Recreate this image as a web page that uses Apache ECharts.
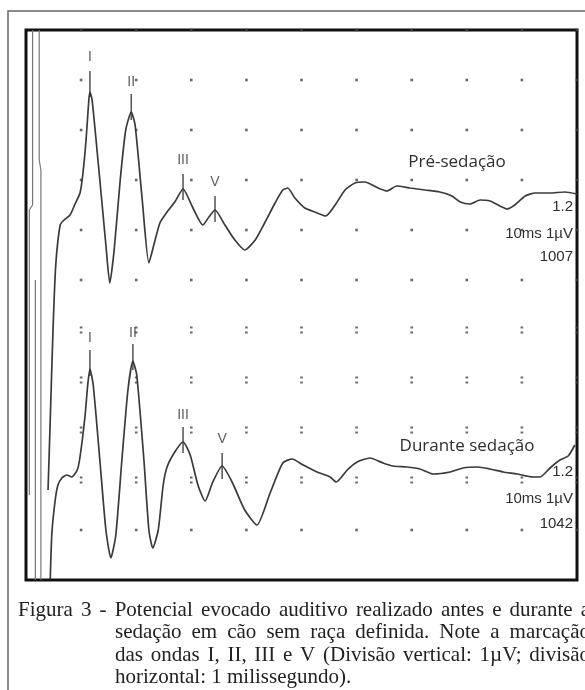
<!DOCTYPE html>
<html>
<head>
<meta charset="utf-8">
<script src="https://cdn.jsdelivr.net/npm/echarts@6/dist/echarts.min.js"></script>
<style>
html, body { margin: 0; padding: 0; background: #fff; }
#chart { width: 585px; height: 690px; }
</style>
</head>
<body>
<div id="chart"></div>
<script>
// time in ms, amplitude in grid divisions (1 division = 1 µV)

const preTime = [0.40, 0.44, 0.49, 0.54, 0.62, 0.69, 0.80, 0.89, 0.98, 1.03, 1.09, 1.14, 1.16, 1.20, 1.34, 1.45, 1.52,
  1.60, 1.71, 1.81, 1.91, 1.98, 2.11, 2.23, 2.32, 2.43, 2.56, 2.70, 2.85, 3.03, 3.21, 3.32, 3.43, 3.61, 3.79, 3.97,
  4.16, 4.34, 4.52, 4.66, 4.75, 4.88, 5.06, 5.24, 5.44, 5.61, 5.79, 5.97, 6.15, 6.39, 6.55, 6.73, 6.97, 7.24, 7.51,
  7.73, 7.88, 8.06, 8.24, 8.42, 8.60, 8.73, 8.87, 9.06, 9.24, 9.51, 9.78, 10.0]
const preAmp = [1.80, 3.20, 5.00, 6.30, 7.10, 7.20, 7.30, 7.52, 7.74, 8.10, 8.80, 9.60, 9.76, 9.60, 8.00, 6.70, 5.94,
  6.60, 8.00, 9.00, 9.36, 9.10, 7.60, 6.34, 6.70, 7.14, 7.36, 7.56, 7.82, 7.44, 7.10, 7.26, 7.40, 7.10, 6.80, 6.60,
  6.80, 7.16, 7.54, 7.80, 7.84, 7.64, 7.44, 7.36, 7.28, 7.50, 7.80, 7.94, 7.96, 7.84, 7.78, 7.88, 7.84, 7.80, 7.76,
  7.68, 7.56, 7.52, 7.60, 7.58, 7.48, 7.42, 7.50, 7.68, 7.74, 7.74, 7.76, 7.72]

const durTime = [0.44, 0.47, 0.53, 0.58, 0.65, 0.74, 0.83, 0.93, 0.98, 1.07, 1.12, 1.16, 1.22, 1.34, 1.45, 1.54,
  1.63, 1.74, 1.85, 1.94, 2.01, 2.14, 2.23, 2.30, 2.40, 2.49, 2.56, 2.70, 2.85, 2.98, 3.12, 3.25, 3.39, 3.56, 3.74,
  3.97, 4.19, 4.43, 4.66, 4.83, 5.03, 5.28, 5.52, 5.63, 5.83, 6.01, 6.24, 6.48, 6.66, 6.91, 7.15, 7.39, 7.70, 7.93,
  8.19, 8.42, 8.66, 8.91, 9.20, 9.33, 9.51, 9.69, 9.84, 9.96]
const durAmp = [0.02, 0.94, 1.60, 1.90, 2.04, 2.10, 2.06, 2.20, 2.46, 3.26, 3.90, 4.22, 3.90, 2.40, 1.00, 0.44,
  0.90, 2.40, 3.80, 4.38, 4.10, 2.40, 1.00, 0.64, 1.00, 1.90, 2.26, 2.56, 2.76, 2.50, 1.90, 1.58, 1.96, 2.28, 1.96,
  1.40, 1.10, 1.74, 2.34, 2.42, 2.30, 2.16, 2.06, 1.96, 2.20, 2.36, 2.44, 2.34, 2.28, 2.26, 2.22, 2.12, 2.16, 2.24,
  2.26, 2.22, 2.16, 2.12, 2.06, 2.06, 2.24, 2.40, 2.48, 2.70]

// stimulus artefact strokes at the left edge
const artefactATime = [0.12, 0.12, 0.06, 0.06]
const artefactAAmp = [11, 7.5, 7.4, 1.7]
const artefactBTime = [0.24, 0.24, 0.27, 0.27]
const artefactBAmp = [11, 8.4, 8.2, 0]
const artefactCTime = [0.17, 0.17]
const artefactCAmp = [6.0, 0]

// wave markers
const waveNames = ['I', 'II', 'III', 'V']
const preMarkTime = [1.16, 1.91, 2.85, 3.43]
const preMarkAmp = [9.92, 9.46, 7.86, 7.42]
const preLabelAmp = [10.46, 9.96, 8.40, 7.96]
const durMarkTime = [1.16, 1.94, 2.85, 3.56]
const durMarkAmp = [4.34, 4.46, 2.80, 2.28]
const durLabelAmp = [4.84, 4.94, 3.30, 2.82]

// dotted grid
const gridCols = [1, 2, 3, 4, 5, 6, 7, 8, 9, 10]
const singleDotRows = [11, 10, 9, 8, 7, 6, 1]
const doubleDotRows = [5, 4, 3, 2]

const captionLines = [
  'Figura 3 - Potencial evocado auditivo realizado antes e durante a',
  'sedação em cão sem raça definida. Note a marcação',
  'das ondas I, II, III e V (Divisão vertical: 1µV; divisão',
  'horizontal: 1 milissegundo).'
]

const TRACE_COLOR = '#3a3a3a'
const LABEL_FONT = '"Liberation Sans", Arial, sans-serif'
const TITLE_FONT = '"Open Sans", "Noto Sans", sans-serif'
const CAPTION_FAMILY = '"Liberation Serif", "Times New Roman", serif'
const CAPTION_SIZE = 21

function zip(xs, ys) {
  return xs.map((x, i) => [x, ys[i]])
}

function dotGrid(rows) {
  const pts = []
  rows.forEach((r) => gridCols.forEach((c) => pts.push([c, r])))
  return pts
}

function traceSeries(name, xs, ys, color, width, smooth) {
  return {
    name,
    type: 'line',
    data: zip(xs, ys),
    smooth,
    showSymbol: false,
    lineStyle: { color, width },
    z: 3
  }
}

function labelSeries(name, xs, ys) {
  return {
    name,
    type: 'scatter',
    symbolSize: 1,
    itemStyle: { color: 'rgba(0,0,0,0)' },
    data: xs.map((x, i) => ({ value: [x, ys[i]], name: waveNames[i] })),
    label: {
      show: true,
      position: 'inside',
      formatter: (p) => p.name,
      color: '#333',
      fontFamily: LABEL_FONT,
      fontSize: 14
    },
    z: 5
  }
}

function tickSeries(name, xs, ys) {
  return {
    name,
    type: 'scatter',
    symbol: 'rect',
    symbolSize: [1.6, 26],
    itemStyle: { color: '#333' },
    data: zip(xs, ys),
    z: 4
  }
}

function sideText(x, y, text, size, family, align) {
  return {
    type: 'text',
    x,
    y,
    style: {
      text,
      fill: '#2e2e2e',
      fontSize: size,
      fontFamily: family,
      align: align || 'right',
      verticalAlign: 'middle'
    },
    z: 10
  }
}

function captionGraphics() {
  const ctx = document.createElement('canvas').getContext('2d')
  ctx.font = CAPTION_SIZE + 'px ' + CAPTION_FAMILY
  const out = []
  captionLines.forEach((line, i) => {
    const left = i === 0 ? 18 : 115
    const right = 590
    const y = 610 + i * 22.5
    const words = line.split(' ')
    const last = i === captionLines.length - 1
    const widths = words.map((w) => ctx.measureText(w).width)
    const total = widths.reduce((a, b) => a + b, 0)
    const gap = last ? ctx.measureText(' ').width : (right - left - total) / (words.length - 1)
    let x = left
    words.forEach((w, k) => {
      out.push({
        type: 'text',
        x,
        y,
        style: {
          text: w,
          fill: '#222',
          fontSize: CAPTION_SIZE,
          fontFamily: CAPTION_FAMILY,
          align: 'left',
          verticalAlign: 'middle'
        },
        z: 10
      })
      x += widths[k] + gap
    })
  })
  return out
}

const chart = echarts.init(document.getElementById('chart'), null, { renderer: 'canvas' })

chart.setOption({
  animation: false,
  backgroundColor: '#fff',
  grid: {
    left: 26,
    top: 30,
    width: 551,
    height: 550,
    show: true,
    borderColor: '#111',
    borderWidth: 3,
    backgroundColor: '#fff'
  },
  xAxis: { type: 'value', min: 0, max: 10, show: false },
  yAxis: { type: 'value', min: 0, max: 11, show: false },
  series: [
    {
      name: 'grid-dots',
      type: 'scatter',
      symbol: 'rect',
      symbolSize: 2.6,
      itemStyle: { color: '#444' },
      data: dotGrid(singleDotRows),
      z: 1
    },
    {
      name: 'grid-dots-double',
      type: 'scatter',
      symbol: 'path://M0,0h2v2h-2z M0,5h2v2h-2z',
      symbolSize: [2.6, 7],
      itemStyle: { color: '#444' },
      data: dotGrid(doubleDotRows),
      z: 1
    },
    traceSeries('artefact-a', artefactATime, artefactAAmp, '#777', 1.2, false),
    traceSeries('artefact-b', artefactBTime, artefactBAmp, '#777', 1.2, false),
    traceSeries('artefact-c', artefactCTime, artefactCAmp, '#777', 1.2, false),
    traceSeries('Pré-sedação', preTime, preAmp, TRACE_COLOR, 1.7, 0.2),
    traceSeries('Durante sedação', durTime, durAmp, TRACE_COLOR, 1.7, 0.2),
    tickSeries('pre-ticks', preMarkTime, preMarkAmp),
    tickSeries('dur-ticks', durMarkTime, durMarkAmp),
    labelSeries('pre-labels', preMarkTime, preLabelAmp),
    labelSeries('dur-labels', durMarkTime, durLabelAmp)
  ],
  graphic: [
    {
      type: 'rect',
      shape: { x: 8, y: 11, width: 700, height: 700 },
      style: { fill: null, stroke: '#666', lineWidth: 1.5 },
      silent: true,
      z: 0
    },
    sideText(457, 162, 'Pré-sedação', 17, TITLE_FONT, 'center'),
    sideText(573, 207, '1.2', 15, LABEL_FONT),
    sideText(573, 234, '10ms 1µV', 15, LABEL_FONT),
    sideText(573, 257, '1007', 15, LABEL_FONT),
    sideText(467, 446, 'Durante sedação', 17, TITLE_FONT, 'center'),
    sideText(573, 472, '1.2', 15, LABEL_FONT),
    sideText(573, 499, '10ms 1µV', 15, LABEL_FONT),
    sideText(573, 524, '1042', 15, LABEL_FONT)
  ].concat(captionGraphics())
})
</script>
</body>
</html>
